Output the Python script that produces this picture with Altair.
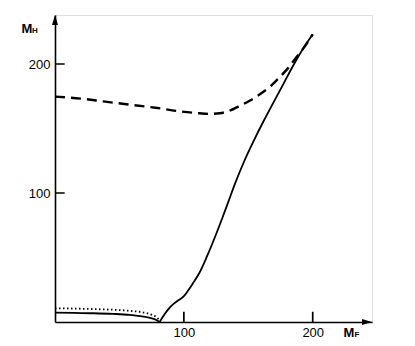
import altair as alt
import pandas as pd

# ---- data ----
dashed_x = [0, 20, 39, 58, 78, 97, 112, 120, 128, 136, 143, 151, 159, 167, 174, 181, 187, 193, 200]
dashed_y = [174.7, 173.2, 170.8, 168.5, 166.1, 163.3, 161.8, 161.3, 161.8, 164.0, 167.4, 171.5, 176.5, 182.5, 189.4, 197.0, 204.9, 212.5, 223.0]

solid_left_x = [0, 15, 30, 45, 58, 66, 72, 76, 79, 81.4]
solid_left_y = [7.2, 7.0, 6.8, 6.3, 5.5, 4.5, 3.6, 2.6, 1.4, 0.0]

solid_right_x = [81.4, 83, 85, 88, 92, 96, 100, 103, 107, 112, 118, 125, 130, 135, 140, 147, 154, 162, 170, 178, 185, 192, 200]
solid_right_y = [0.0, 3.0, 6.0, 10.0, 14.0, 17.0, 20.0, 24.0, 30.0, 38.0, 51.0, 68.0, 81.0, 94.5, 108.0, 125.0, 140.0, 156.0, 171.0, 186.0, 199.0, 211.0, 223.0]

dotted_x = [0, 15, 30, 45, 58, 66, 72, 76, 79, 81]
dotted_y = [10.6, 10.4, 10.0, 9.5, 8.7, 7.8, 6.6, 5.2, 3.6, 1.5]

tick_values = [100, 200]
x_max = 246
y_max = 238

W, H = 317, 307
FONT = "Liberation Sans"

dashed_df = pd.DataFrame({"x": dashed_x, "y": dashed_y})
solid_df = pd.DataFrame(
    {"x": solid_left_x + solid_right_x,
     "y": solid_left_y + solid_right_y,
     "seg": ["a"] * len(solid_left_x) + ["b"] * len(solid_right_x),
     "o": list(range(len(solid_left_x) + len(solid_right_x)))}
)
dotted_df = pd.DataFrame({"x": dotted_x, "y": dotted_y})
ticks_df = pd.DataFrame({"v": tick_values})

xs = alt.Scale(domain=[0, x_max], nice=False, zero=False)
ys = alt.Scale(domain=[0, y_max], nice=False, zero=False)

xaxis = alt.Axis(values=tick_values, title=None, grid=False, ticks=False, tickSize=0,
                 domain=True, domainColor="black", domainWidth=1.6,
                 labelFont=FONT, labelFontSize=13, labelColor="black", labelPadding=4)
yaxis = alt.Axis(values=tick_values, title=None, grid=False, ticks=False, tickSize=0,
                 domain=True, domainColor="black", domainWidth=1.6,
                 labelFont=FONT, labelFontSize=13, labelColor="black", labelPadding=5)

dashed = alt.Chart(dashed_df).mark_line(
    color="black", strokeWidth=2.4, strokeDash=[10, 6], interpolate="monotone"
).encode(
    x=alt.X("x:Q", scale=xs, axis=xaxis),
    y=alt.Y("y:Q", scale=ys, axis=yaxis),
)

solid = alt.Chart(solid_df).mark_line(
    color="black", strokeWidth=1.8, interpolate="monotone"
).encode(
    x=alt.X("x:Q", scale=xs),
    y=alt.Y("y:Q", scale=ys),
    detail="seg:N",
    order="o:Q",
)

dotted = alt.Chart(dotted_df).mark_line(
    color="black", strokeWidth=1.8, strokeDash=[1.5, 2.5], interpolate="monotone"
).encode(
    x=alt.X("x:Q", scale=xs),
    y=alt.Y("y:Q", scale=ys),
)

ytick = alt.Chart(ticks_df).mark_rule(color="black", strokeWidth=1.7, strokeDash=[1, 0]).encode(
    y=alt.Y("v:Q", scale=ys),
    x=alt.X(datum=0, scale=xs),
    x2=alt.X2(datum=7.5),
)
xtick = alt.Chart(ticks_df).mark_rule(color="black", strokeWidth=1.7, strokeDash=[1, 0]).encode(
    x=alt.X("v:Q", scale=xs),
    y=alt.Y(datum=0, scale=ys),
    y2=alt.Y2(datum=8),
)

arrow_df = pd.DataFrame({"x": [x_max], "y": [0]})
arrow_x = alt.Chart(arrow_df).mark_point(
    shape="M0,0 L-1,-0.3 L-1,0.3 Z", filled=True, color="black", size=400, opacity=1
).encode(x=alt.X("x:Q", scale=xs), y=alt.Y("y:Q", scale=ys))
arrow_y_df = pd.DataFrame({"x": [0], "y": [y_max]})
arrow_y = alt.Chart(arrow_y_df).mark_point(
    shape="M0,0 L-0.3,1 L0.3,1 Z", filled=True, color="black", size=400, opacity=1
).encode(x=alt.X("x:Q", scale=xs), y=alt.Y("y:Q", scale=ys))

lab_df = pd.DataFrame({"t": ["M"]})
mh = alt.Chart(lab_df).mark_text(font=FONT, fontSize=13, fontWeight="bold", color="black",
                                 align="center", baseline="middle").encode(
    text="t:N", x=alt.value(-28), y=alt.value(14))
mh_sub = alt.Chart(pd.DataFrame({"t": ["H"]})).mark_text(font=FONT, fontSize=8, fontWeight="bold",
                                                          color="black", align="center", baseline="middle").encode(
    text="t:N", x=alt.value(-20), y=alt.value(16))
mf = alt.Chart(lab_df).mark_text(font=FONT, fontSize=13, fontWeight="bold", color="black",
                                 align="center", baseline="middle").encode(
    text="t:N", x=alt.value(294), y=alt.value(H + 11))
mf_sub = alt.Chart(pd.DataFrame({"t": ["F"]})).mark_text(font=FONT, fontSize=8, fontWeight="bold",
                                                          color="black", align="center", baseline="middle").encode(
    text="t:N", x=alt.value(302), y=alt.value(H + 13))

chart = alt.layer(dashed, solid, dotted, ytick, xtick, arrow_x, arrow_y, mh, mh_sub, mf, mf_sub).properties(
    width=W, height=H,
    autosize=alt.AutoSizeParams(type="none"),
    padding={"left": 47, "top": 7, "right": 12, "bottom": 22},
).configure_view(stroke=None).configure(background="white")

chart.save("out.html", embed_options={"renderer": "svg", "actions": False})
